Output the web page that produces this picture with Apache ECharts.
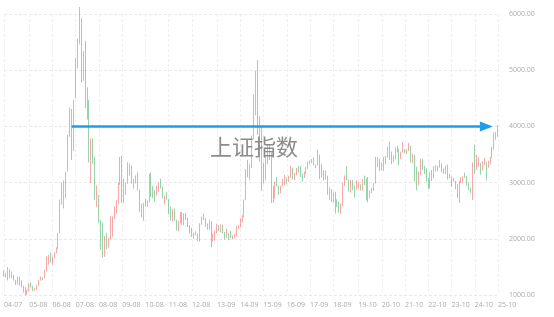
<!DOCTYPE html>
<html><head><meta charset="utf-8">
<script src="https://cdn.jsdelivr.net/npm/echarts@6/dist/echarts.min.js"></script>
<style>html,body{margin:0;padding:0;background:#fff}#c{width:554px;height:317px}</style>
</head><body><div id="c"></div>
<script>
// Monthly candles [open, close, low, high]
const k2004 = [[1399,1386,1329,1435],[1386,1342,1310,1399],[1342,1396,1259,1496],[1396,1320,1300,1460],[1320,1340,1300,1420],[1340,1266,1259,1360]];
const k2005 = [[1266,1191,1177,1270],[1191,1306,1189,1328],[1306,1181,1166,1325],[1181,1159,1135,1259],[1159,1060,1043,1167],[1060,1080,998,1146],[1080,1083,1004,1095],[1083,1162,1064,1213],[1162,1155,1133,1223],[1155,1092,1067,1162],[1092,1099,1074,1120],[1099,1161,1090,1180]];
const k2006 = [[1161,1258,1161,1270],[1258,1299,1255,1329],[1299,1298,1262,1318],[1298,1440,1298,1448],[1440,1641,1419,1686],[1641,1672,1541,1714],[1672,1612,1575,1757],[1612,1658,1541,1680],[1658,1752,1650,1763],[1752,1837,1744,1848],[1837,2099,1820,2099],[2099,2675,2096,2699]];
const k2007 = [[2675,2786,2609,2995],[2786,2881,2541,3040],[2881,3183,2723,3192],[3183,3841,3199,3848],[3841,4109,3816,4335],[4109,3820,3404,4311],[3820,4471,3563,4472],[4471,5218,4498,5222],[5218,5552,5032,5563],[5552,5954,5462,6124],[5954,4871,4778,5928],[4871,5262,4812,5337]];
const k2008 = [[5262,4383,4330,5522],[4383,4348,4123,4695],[4348,3473,3357,4473],[3473,3693,2990,3786],[3693,3433,3333,3786],[3433,2736,2693,3459],[2736,2776,2566,2952],[2776,2397,2284,2781],[2397,2293,1802,2333],[2293,1729,1664,2293],[1729,1871,1679,2050],[1871,1821,1814,2100]];
const k2009 = [[1821,1991,1844,2012],[1991,2082,1990,2402],[2082,2373,2037,2400],[2373,2477,2351,2579],[2477,2633,2450,2688],[2633,2959,2618,3000],[2959,3412,2960,3455],[3412,2667,2639,3478],[2667,2779,2639,3068],[2779,2996,2780,3000],[2996,3195,2980,3361],[3195,3277,3124,3338]];
const k2010 = [[3277,2989,2986,3306],[2989,3051,2890,3068],[3051,3110,2985,3128],[3110,2870,2860,3181],[2870,2592,2481,2880],[2592,2398,2382,2627],[2398,2638,2319,2640],[2638,2639,2574,2717],[2639,2656,2573,2686],[2656,2979,2646,3159],[2979,2820,2744,3186],[2820,2808,2722,2939]];
const k2011 = [[2808,2790,2661,2866],[2790,2905,2767,2944],[2905,2928,2837,3001],[2928,2911,2893,3067],[2911,2743,2718,2928],[2743,2762,2610,2774],[2762,2701,2697,2827],[2701,2567,2437,2706],[2567,2359,2327,2573],[2359,2468,2307,2536],[2468,2333,2319,2537],[2333,2199,2149,2340]];
const k2012 = [[2199,2292,2132,2320],[2292,2428,2273,2478],[2428,2262,2242,2476],[2262,2396,2242,2453],[2396,2372,2331,2461],[2372,2225,2209,2373],[2225,2103,2096,2242],[2103,2047,2032,2193],[2047,2086,1999,2112],[2086,2069,2058,2133],[2069,1980,1959,2091],[1980,2269,1949,2276]];
const k2013 = [[2269,2385,2248,2393],[2385,2365,2332,2445],[2365,2236,2214,2369],[2236,2177,2161,2273],[2177,2300,2170,2334],[2300,1979,1849,2314],[1979,1993,1951,2092],[1993,2098,1964,2149],[2098,2175,2095,2270],[2175,2141,2133,2243],[2141,2220,2114,2260],[2220,2116,2101,2250]];
const k2014 = [[2116,2033,1985,2125],[2033,2056,2017,2177],[2056,2033,1974,2097],[2033,2026,2015,2146],[2026,2039,1991,2062],[2039,2048,2010,2087],[2048,2201,2043,2222],[2201,2217,2174,2248],[2217,2364,2202,2366],[2364,2420,2293,2421],[2420,2683,2383,2697],[2683,3235,2687,3239]];
const k2015 = [[3235,3210,3095,3406],[3210,3310,3050,3325],[3310,3748,3263,3836],[3748,4441,3772,4572],[4441,4612,4198,4986],[4612,4277,3848,5178],[4277,3664,3373,4184],[3664,3206,2851,4006],[3206,3053,2983,3357],[3053,3383,3039,3459],[3383,3445,3327,3679],[3445,3539,3401,3684]];
const k2016 = [[3539,2738,2638,3539],[2738,2688,2638,2933],[2688,3004,2716,3018],[3004,2938,2930,3097],[2938,2917,2780,2946],[2917,2930,2808,2945],[2930,2979,2931,3070],[2979,3085,2953,3140],[3085,3005,2969,3096],[3005,3100,3010,3116],[3100,3250,3092,3301],[3250,3104,3056,3264]];
const k2017 = [[3104,3159,3044,3174],[3159,3242,3134,3260],[3242,3223,3179,3295],[3223,3155,3097,3295],[3155,3117,3016,3158],[3117,3192,3083,3194],[3192,3273,3150,3277],[3273,3361,3236,3374],[3361,3349,3330,3392],[3349,3393,3347,3419],[3393,3317,3309,3451],[3317,3307,3255,3321]];
const k2018 = [[3307,3481,3307,3587],[3481,3259,3062,3495],[3259,3169,3091,3335],[3169,3082,3041,3221],[3082,3095,3053,3219],[3095,2847,2782,3124],[2847,2876,2691,2915],[2876,2725,2653,2887],[2725,2821,2644,2827],[2821,2603,2449,2838],[2603,2588,2569,2703],[2588,2494,2462,2668]];
const k2019 = [[2494,2585,2440,2630],[2585,2941,2583,2998],[2941,3091,2939,3129],[3091,3078,3044,3288],[3078,2899,2839,3054],[2899,2979,2822,3049],[2979,2932,2863,3048],[2932,2886,2733,2944],[2886,2905,2875,3042],[2905,2929,2891,3005],[2929,2871,2857,2969],[2871,3050,2855,3062]];
const k2020 = [[3050,2977,2954,3127],[2977,2880,2685,3074],[2880,2750,2647,3098],[2750,2860,2720,2861],[2860,2852,2813,2905],[2852,2985,2851,2995],[2985,3310,2983,3458],[3310,3396,3272,3454],[3396,3218,3202,3426],[3218,3225,3217,3358],[3225,3392,3209,3457],[3392,3473,3325,3474]];
const k2021 = [[3473,3483,3446,3637],[3483,3509,3402,3731],[3509,3442,3328,3553],[3442,3447,3368,3482],[3447,3615,3416,3625],[3615,3591,3537,3654],[3591,3397,3313,3601],[3397,3544,3415,3548],[3544,3568,3534,3723],[3568,3547,3515,3602],[3547,3564,3510,3591],[3564,3640,3560,3708]];
const k2022 = [[3640,3361,3357,3651],[3361,3462,3344,3514],[3462,3253,3023,3491],[3253,3047,2863,3282],[3047,3187,2955,3195],[3187,3399,3132,3424],[3399,3253,3227,3416],[3253,3202,3155,3297],[3202,3024,3021,3255],[3024,2893,2885,3082],[2893,3151,2896,3185],[3151,3089,3030,3226]];
const k2023 = [[3089,3256,3073,3292],[3256,3280,3195,3311],[3280,3273,3210,3298],[3273,3323,3264,3398],[3323,3205,3184,3342],[3205,3202,3158,3250],[3202,3291,3151,3300],[3291,3120,3053,3322],[3120,3110,3083,3158],[3110,3018,2923,3110],[3018,3030,3015,3088],[3030,2975,2882,3031]];
const k2024 = [[2975,2789,2724,2976],[2789,3015,2635,3027],[3015,3041,2993,3091],[3041,3105,2995,3113],[3105,3087,3086,3175],[3087,2967,2943,3121],[2967,2939,2865,3004],[2939,2842,2815,2907],[2842,3336,2689,3358],[3336,3280,3153,3674],[3280,3327,3230,3494],[3327,3352,3283,3450]];
const k2025 = [[3352,3251,3140,3353],[3251,3321,3216,3385],[3321,3336,3305,3439],[3336,3279,3040,3365],[3279,3347,3267,3391],[3347,3444,3325,3458],[3444,3573,3432,3637],[3573,3858,3580,3888],[3858,3883,3762,3900],[3883,3955,3815,4025]];

const tickLabels = ['04-07','05-08','06-08','07-08','08-08','09-08','10-08','11-08','12-08','13-09','14-09','15-09','16-09','17-09','18-09','19-10','20-10','21-10','22-10','23-10','24-10','25-10'];
const arrowStart = ['07-06', 4000];
const arrowEnd = ['25-04', 4000];
const title = '上证指数';

const years = [[2004,k2004],[2005,k2005],[2006,k2006],[2007,k2007],[2008,k2008],[2009,k2009],[2010,k2010],[2011,k2011],[2012,k2012],[2013,k2013],[2014,k2014],[2015,k2015],[2016,k2016],[2017,k2017],[2018,k2018],[2019,k2019],[2020,k2020],[2021,k2021],[2022,k2022],[2023,k2023],[2024,k2024],[2025,k2025]];
const categories = [], values = [];
years.forEach(([y, arr]) => {
  const startM = y === 2004 ? 7 : 1;
  arr.forEach((v, i) => {
    const m = startM + i;
    categories.push(String(y % 100).padStart(2,'0') + '-' + String(m).padStart(2,'0'));
    values.push(v);
  });
});
const isTick = (idx, val) => tickLabels.indexOf(categories[idx]) >= 0;

const chart = echarts.init(document.getElementById('c'));
chart.setOption({
  animation: false,
  backgroundColor: '#fff',
  grid: { left: 4, right: 56, top: 14, bottom: 22 },
  xAxis: {
    type: 'category', data: categories, boundaryGap: false,
    axisLine: { show: false }, axisTick: { show: false },
    axisLabel: { interval: isTick, align: 'left', margin: 6, fontSize: 7, color: '#aaa', fontFamily: 'Open Sans' },
    splitLine: { show: true, interval: isTick, lineStyle: { type: [3, 2], color: '#f0f0f0', width: 1 } }
  },
  yAxis: {
    type: 'value', position: 'right', min: 1000, max: 6000, interval: 1000, scale: true,
    axisLine: { show: false }, axisTick: { show: false },
    axisLabel: { margin: 11, fontSize: 7, color: '#aaa', fontFamily: 'Open Sans', formatter: v => v.toFixed(2) },
    splitLine: { lineStyle: { type: [3, 2], color: '#e8e8e8', width: 1 } }
  },
  graphic: [{
    type: 'text', left: 210, top: 136, silent: true, z: 1,
    style: { text: title, fontSize: 22, fill: 'rgba(120,120,120,0.85)', fontFamily: 'Noto Sans CJK SC' }
  }],
  series: [{
    type: 'candlestick', data: values, clip: false, barWidth: '60%', z: 3,
    itemStyle: { color: '#f05858', color0: '#3aad5a', borderColor: '#f05858', borderColor0: '#3aad5a', borderWidth: 0.7, opacity: 0.75 },
    markLine: {
      silent: true, animation: false, z: 5,
      label: { show: false },
      lineStyle: { color: '#1e9ee8', width: 2.5, type: 'solid', opacity: 1 },
      data: [[
        { coord: arrowStart, symbol: 'none' },
        { coord: arrowEnd, symbol: 'triangle', symbolSize: [10, 13] }
      ]]
    }
  }]
});
</script></body></html>
